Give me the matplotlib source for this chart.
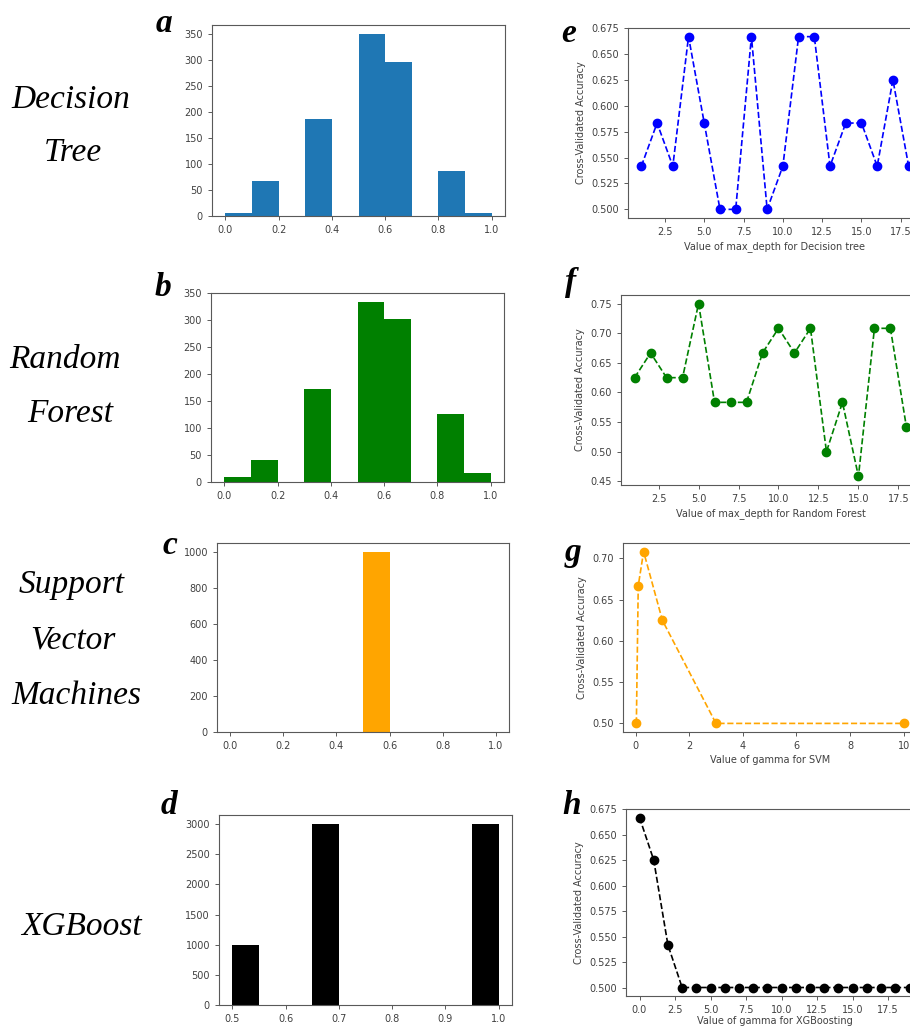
import numpy as np
import matplotlib
matplotlib.use('Agg')
import matplotlib.pyplot as plt

# histogram counts (10 bins each)
edges_01 = np.linspace(0, 1, 11)
dt_counts = [6, 68, 0, 186, 0, 350, 296, 0, 86, 6]
rf_counts = [10, 40, 0, 172, 0, 334, 303, 0, 127, 16]
svm_counts = [0, 0, 0, 0, 0, 1000, 0, 0, 0, 0]
edges_xgb = np.linspace(0.5, 1.0, 11)
xgb_counts = [1000, 0, 0, 3000, 0, 0, 0, 0, 0, 3000]

# cross-validated accuracy curves
depth = list(range(1, 19))
dt_acc = [0.5417, 0.5833, 0.5417, 0.6667, 0.5833, 0.5, 0.5, 0.6667, 0.5,
          0.5417, 0.6667, 0.6667, 0.5417, 0.5833, 0.5833, 0.5417, 0.625, 0.5417]
rf_acc = [0.625, 0.6667, 0.625, 0.625, 0.75, 0.5833, 0.5833, 0.5833, 0.6667,
          0.7083, 0.6667, 0.7083, 0.5, 0.5833, 0.4583, 0.7083, 0.7083, 0.5417]
svm_gamma = [0.03, 0.1, 0.3, 1, 3, 10]
svm_acc = [0.5, 0.6667, 0.7083, 0.625, 0.5, 0.5]
xgb_gamma = list(range(0, 20))
xgb_acc = [0.6667, 0.625, 0.5417] + [0.5] * 17

W, H = 910, 1028
fig = plt.figure(figsize=(W / 100, H / 100), dpi=100)


def box(x0, x1, y0, y1):
    return [x0 / W, 1 - y1 / H, (x1 - x0) / W, (y1 - y0) / H]


def style(ax):
    ax.tick_params(labelsize=7, colors='0.25', length=3, width=0.6)
    for s in ax.spines.values():
        s.set_color('0.35')
        s.set_linewidth(0.8)


def hist(rect, edges, counts, color):
    ax = fig.add_axes(box(*rect))
    centers = (edges[:-1] + edges[1:]) / 2
    ax.hist(centers, bins=edges, weights=counts, color=color)
    style(ax)
    return ax


def curve(rect, x, y, color, xlabel, pad=3):
    ax = fig.add_axes(box(*rect))
    ax.plot(x, y, '--o', color=color, markersize=6, linewidth=1.2)
    ax.set_xlabel(xlabel, fontsize=7, color='0.25', labelpad=pad)
    ax.set_ylabel('Cross-Validated Accuracy', fontsize=7, color='0.25')
    style(ax)
    return ax


hist((212, 505, 25, 216), edges_01, dt_counts, '#1f77b4')
hist((211, 504, 293, 482), edges_01, rf_counts, 'green')
hist((217, 509, 543, 732), edges_01, svm_counts, 'orange')
hist((219, 512, 815, 1005), edges_xgb, xgb_counts, 'black')

curve((628, 922, 28, 218), depth, dt_acc, 'blue', 'Value of max_depth for Decision tree')
curve((621, 920, 295, 485), depth, rf_acc, 'green', 'Value of max_depth for Random Forest')
curve((623, 917, 543, 732), svm_gamma, svm_acc, 'orange', 'Value of gamma for SVM')
curve((626, 923, 809, 996), xgb_gamma, xgb_acc, 'black', 'Value of gamma for XGBoosting', pad=1)

serif = ['Liberation Serif', 'DejaVu Serif']
for ch, x, y in [('a', 164, 24), ('b', 163, 288), ('c', 170, 545), ('d', 169, 806),
                 ('e', 569, 33), ('f', 571, 282), ('g', 573, 553), ('h', 572, 805)]:
    fig.text(x / W, 1 - y / H, ch, fontsize=24, family=serif, style='italic',
             weight='bold', ha='center', va='center')

for word, x, y in [('Decision', 71, 100), ('Tree', 73, 153), ('Random', 65, 360),
                   ('Forest', 70, 414), ('Support', 72, 585), ('Vector', 73, 640),
                   ('Machines', 76, 696), ('XGBoost', 81, 927)]:
    fig.text(x / W, 1 - y / H, word, fontsize=24, family=serif, style='italic',
             ha='center', va='center')

fig.savefig('out.png', dpi=100)
